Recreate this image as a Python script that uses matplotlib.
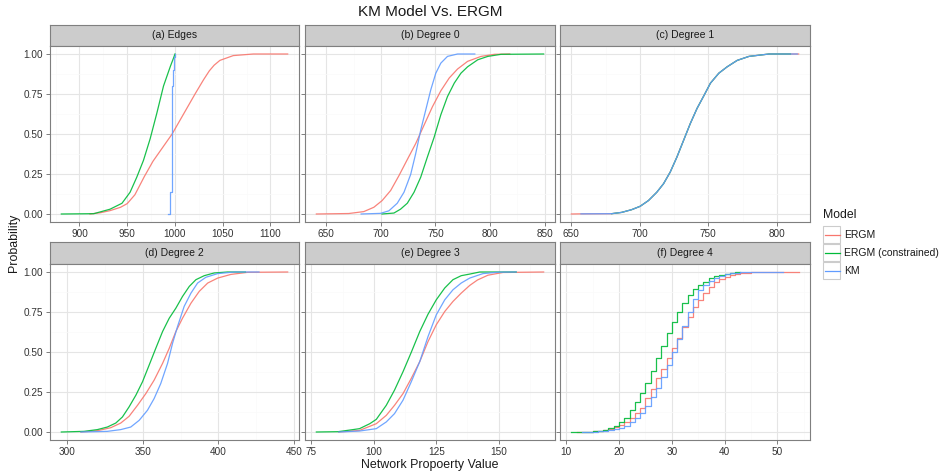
import matplotlib
matplotlib.use("Agg")
import matplotlib.pyplot as plt
from matplotlib.patches import Rectangle
from matplotlib.lines import Line2D
from matplotlib.ticker import MultipleLocator, FuncFormatter

plt.rcParams['font.family'] = ['Liberation Sans', 'DejaVu Sans']

# ---------------- data ----------------
models = ["ERGM", "ERGM (constrained)", "KM"]
colors = ["#F8766D", "#00BA38", "#619CFF"]
panel_titles = ["(a) Edges", "(b) Degree 0", "(c) Degree 1",
                "(d) Degree 2", "(e) Degree 3", "(f) Degree 4"]
panel_breaks = [50, 50, 50, 50, 25, 10]

# (a) Edges
a_ergm_x = [911, 922, 932, 943, 950, 958, 968, 977, 987, 997, 1009, 1021, 1030, 1036, 1041,
            1047, 1061, 1082, 1118]
a_ergm_p = [0, 0.008, 0.021, 0.042, 0.065, 0.12, 0.235, 0.33, 0.415, 0.5, 0.625, 0.75, 0.84,
            0.895, 0.93, 0.96, 0.99, 1.0, 1.0]
a_con_x = [881, 915, 932, 944.5, 953, 960, 967, 974, 981, 988, 995, 998.5, 1000]
a_con_p = [0, 0.002, 0.03, 0.067, 0.136, 0.23, 0.335, 0.47, 0.63, 0.80, 0.92, 0.975, 1.0]
a_km_x = [993, 995, 997, 998, 999, 1000]
a_km_p = [0.003, 0.14, 0.80, 0.90, 0.98, 1.0]

# (b) Degree 0
b_ergm_x = [641, 670.6, 684.4, 693.6, 701.2, 709, 716.6, 724.2, 731.9, 739.6, 747.2, 754.9,
            762.6, 770.2, 779.4, 791.7, 804, 818]
b_ergm_p = [0, 0.003, 0.015, 0.042, 0.084, 0.147, 0.24, 0.34, 0.44, 0.556, 0.67, 0.77,
            0.85, 0.906, 0.954, 0.985, 0.998, 1.0]
b_con_x = [701, 712, 718, 724.2, 730.4, 736.5, 742.6, 748.8, 754.9, 761, 767.2, 773.3,
           779.4, 788.7, 797.9, 810, 849]
b_con_p = [0, 0.006, 0.03, 0.067, 0.136, 0.23, 0.356, 0.48, 0.62, 0.734, 0.818, 0.88,
           0.92, 0.964, 0.985, 0.998, 1.0]
b_km_x = [682, 699.7, 707.4, 715, 721.2, 727.3, 731.9, 736.5, 741.1, 745.7, 750.3, 754.9,
          761, 770.2, 786]
b_km_p = [0, 0.004, 0.02, 0.067, 0.136, 0.247, 0.377, 0.524, 0.65, 0.776, 0.88, 0.943,
          0.985, 1.0, 1.0]

# (c) Degree 1
c_ergm_x = [650, 657, 679.4, 686.7, 694, 700.2, 706.3, 712.4, 717.3, 722.2, 727.1, 732, 736.9,
            741.8, 746.7, 751.6, 757.7, 763.8, 771.1, 779.7, 794.4, 816]
c_ergm_p = [0, 0.001, 0.002, 0.01, 0.027, 0.048, 0.084, 0.136, 0.189, 0.262, 0.356, 0.461, 0.566,
            0.66, 0.738, 0.818, 0.88, 0.92, 0.96, 0.985, 1.0, 1.0]
c_con_x = [679.4, 686.7, 694, 700.2, 706.3, 712.4, 717.3, 722.2, 727.1, 732, 736.9,
           741.8, 746.7, 751.6, 757.7, 763.8, 771.1, 779.7, 794.4, 810]
c_con_p = [0.002, 0.01, 0.027, 0.048, 0.084, 0.136, 0.189, 0.262, 0.356, 0.461, 0.566,
           0.66, 0.738, 0.818, 0.88, 0.92, 0.96, 0.985, 1.0, 1.0]
c_km_x = [657, 679.4, 686.7, 694, 700.2, 706.3, 712.4, 717.3, 722.2, 727.1, 732, 736.9,
          741.8, 746.7, 751.6, 757.7, 763.8, 771.1, 779.7, 794.4, 815]
c_km_p = [0.001, 0.002, 0.01, 0.027, 0.048, 0.084, 0.136, 0.189, 0.262, 0.356, 0.461, 0.566,
          0.66, 0.738, 0.818, 0.88, 0.92, 0.96, 0.985, 1.0, 1.0]

# (d) Degree 2
d_ergm_x = [309, 319.9, 328.8, 335.4, 340.9, 346.5, 352, 357.5, 363.1, 367.5, 371.9, 376.3,
            381.9, 387.4, 393, 399.6, 408.4, 419.5, 446]
d_ergm_p = [0, 0.008, 0.027, 0.056, 0.098, 0.167, 0.24, 0.324, 0.429, 0.523, 0.628, 0.711,
            0.805, 0.879, 0.931, 0.962, 0.985, 0.998, 1.0]
d_con_x = [296, 311, 319.9, 326.5, 332.1, 336.5, 340.9, 345.4, 349.8, 354.2, 358.6, 363.1,
           367.5, 371.9, 376.3, 380.8, 385.2, 390.7, 397.3, 406.2, 418]
d_con_p = [0, 0.004, 0.015, 0.031, 0.056, 0.094, 0.157, 0.23, 0.314, 0.418, 0.523, 0.628,
           0.711, 0.774, 0.847, 0.91, 0.952, 0.977, 0.994, 1.0, 1.0]
d_km_x = [309, 326.5, 335.4, 342, 347.6, 353.1, 357.5, 361.9, 366.4, 369.7, 373, 377.4,
          381.9, 386.3, 391.8, 399.6, 410.6, 427]
d_km_p = [0, 0.004, 0.015, 0.031, 0.073, 0.136, 0.209, 0.303, 0.429, 0.554, 0.659, 0.785,
          0.868, 0.931, 0.967, 0.99, 1.0, 1.0]

# (e) Degree 3
e_ergm_x = [86, 94.3, 101, 105, 108.3, 111.7, 115, 118.4, 121.7, 125, 128.4, 131.7, 135,
            138.4, 141.5, 145.7, 151.7, 168]
e_ergm_p = [0, 0.01, 0.052, 0.104, 0.167, 0.24, 0.335, 0.44, 0.565, 0.67, 0.753, 0.816, 0.868,
            0.916, 0.95, 0.98, 0.997, 1.0]
e_con_x = [77, 85.7, 91.7, 94.3, 98.4, 101, 105, 108.3, 111.7, 115, 118.4, 121.7, 125,
           128.4, 131.7, 135, 138.4, 142.4, 157]
e_con_p = [0, 0.002, 0.015, 0.021, 0.052, 0.079, 0.167, 0.262, 0.377, 0.498, 0.628, 0.736, 0.826,
           0.9, 0.952, 0.977, 0.987, 1.0, 1.0]
e_km_x = [86, 94.3, 101, 105, 108.3, 111.7, 115, 118.4, 121.7, 125, 128.4, 131.7, 135,
          138.4, 143.7, 150, 157]
e_km_p = [0, 0.006, 0.021, 0.063, 0.115, 0.199, 0.314, 0.44, 0.596, 0.732, 0.826, 0.889, 0.931,
          0.962, 0.99, 0.999, 1.0]

# (f) Degree 4 (integer valued -> step ECDF)
f_ergm_x = [12, 14, 15, 16, 17, 18, 19, 20, 21, 22, 23, 24, 25, 26, 27, 28, 29, 30, 31, 32, 33,
            34, 35, 36, 37, 38, 39, 40, 41, 42, 43, 44, 45, 46, 47, 54]
f_ergm_p = [0.001, 0.002, 0.004, 0.007, 0.012, 0.02, 0.03, 0.042, 0.063, 0.09, 0.12, 0.153,
            0.21, 0.266, 0.335, 0.395, 0.46, 0.525, 0.59, 0.655, 0.718, 0.78, 0.825, 0.87,
            0.905, 0.935, 0.955, 0.97, 0.98, 0.987, 0.992, 0.995, 0.997, 0.998, 0.999, 1.0]
f_con_x = [11, 13, 14, 15, 16, 17, 18, 19, 20, 21, 22, 23, 24, 25, 26, 27, 28, 29, 30, 31, 32,
           33, 34, 35, 36, 37, 38, 39, 40, 41, 42, 43]
f_con_p = [0.001, 0.002, 0.003, 0.005, 0.009, 0.015, 0.024, 0.04, 0.06, 0.09, 0.14, 0.19,
           0.241, 0.304, 0.383, 0.46, 0.538, 0.617, 0.69, 0.752, 0.805, 0.857, 0.895, 0.918,
           0.94, 0.96, 0.973, 0.983, 0.99, 0.995, 0.998, 1.0]
f_km_x = [13, 14, 15, 16, 17, 18, 19, 20, 21, 22, 23, 24, 25, 26, 27, 28, 29, 30, 31, 32, 33,
          34, 35, 36, 37, 38, 39, 40, 41, 42, 43, 44, 51]
f_km_p = [0.0005, 0.001, 0.002, 0.004, 0.007, 0.011, 0.017, 0.025, 0.04, 0.06, 0.085, 0.12,
          0.161, 0.22, 0.278, 0.345, 0.418, 0.502, 0.58, 0.66, 0.75, 0.83, 0.885, 0.916,
          0.941, 0.962, 0.977, 0.987, 0.993, 0.996, 0.998, 0.999, 1.0]

panel_series = [
    [(a_ergm_x, a_ergm_p, False), (a_con_x, a_con_p, False), (a_km_x, a_km_p, True)],
    [(b_ergm_x, b_ergm_p, False), (b_con_x, b_con_p, False), (b_km_x, b_km_p, False)],
    [(c_ergm_x, c_ergm_p, False), (c_con_x, c_con_p, False), (c_km_x, c_km_p, False)],
    [(d_ergm_x, d_ergm_p, False), (d_con_x, d_con_p, False), (d_km_x, d_km_p, False)],
    [(e_ergm_x, e_ergm_p, False), (e_con_x, e_con_p, False), (e_km_x, e_km_p, False)],
    [(f_ergm_x, f_ergm_p, True), (f_con_x, f_con_p, True), (f_km_x, f_km_p, True)],
]

# ---------------- layout ----------------
W, H = 941, 474
fig = plt.figure(figsize=(W / 100, H / 100), dpi=100)
fig.patch.set_facecolor("white")


def rect(x0, y0, x1, y1):
    return [x0 / W, 1 - y1 / H, (x1 - x0) / W, (y1 - y0) / H]


cols = [(50, 299), (305, 555), (560, 810)]
rows = [((25, 46), (46, 222)), ((242.5, 264), (264, 440))]

border = "#7F7F7F"
for i in range(6):
    r, c = divmod(i, 3)
    (sy0, sy1), (py0, py1) = rows[r]
    x0, x1 = cols[c]
    # strip
    sax = fig.add_axes(rect(x0, sy0, x1, sy1))
    sax.set_facecolor("#CCCCCC")
    sax.set_xticks([]); sax.set_yticks([])
    for s in sax.spines.values():
        s.set_color(border); s.set_linewidth(0.8)
    sax.text(0.5, 0.5, panel_titles[i], ha="center", va="center",
             fontsize=7.5, color="#1A1A1A", transform=sax.transAxes)
    # panel
    ax = fig.add_axes(rect(x0, py0, x1, py1))
    ax.set_facecolor("white")
    allx = []
    for k, (xs, ps, step) in enumerate(panel_series[i]):
        allx += list(xs)
        ax.plot(xs, ps, color=colors[k], lw=0.9, alpha=0.9,
                drawstyle="steps-post" if step else "default", zorder=3 + k)
    lo, hi = min(allx), max(allx)
    pad = (hi - lo) * 0.05
    ax.set_xlim(lo - pad, hi + pad)
    ax.set_ylim(-0.05, 1.05)
    br = panel_breaks[i]
    ax.xaxis.set_major_locator(MultipleLocator(br))
    ax.xaxis.set_minor_locator(MultipleLocator(br / 2))
    ax.yaxis.set_major_locator(MultipleLocator(0.25))
    ax.yaxis.set_minor_locator(MultipleLocator(0.125))
    ax.grid(True, which="minor", color="#FAFAFA", lw=0.5, zorder=0)
    ax.grid(True, which="major", color="#E5E5E5", lw=0.8, zorder=1)
    ax.set_axisbelow(True)
    for s in ax.spines.values():
        s.set_color(border); s.set_linewidth(0.8)
    ax.tick_params(which="major", direction="out", length=3, width=0.7, color=border,
                   labelsize=7.2, labelcolor="#333333", pad=2)
    ax.tick_params(which="minor", length=0)
    ax.xaxis.set_major_formatter(FuncFormatter(lambda v, p: "%d" % round(v)))
    if c == 0:
        ax.yaxis.set_major_formatter(FuncFormatter(lambda v, p: "%.2f" % v))
    else:
        ax.tick_params(axis="y", labelleft=False)

# titles
fig.text(430 / W, 1 - 12 / H, "KM Model Vs. ERGM", ha="center", va="center",
         fontsize=11, color="#1A1A1A")
fig.text(430 / W, 1 - 465 / H, "Network Propoerty Value", ha="center", va="center",
         fontsize=8.9, color="#1A1A1A")
fig.text(14 / W, 1 - 243 / H, "Probability", ha="center", va="center",
         rotation=90, fontsize=8.9, color="#1A1A1A")

# legend (drawn manually, ggplot style)
fig.text(823 / W, 1 - 215 / H, "Model", ha="left", va="center", fontsize=8.8, color="#1A1A1A")
centers = [234.5, 252.5, 270.5]
for k, m in enumerate(models):
    cy = centers[k]
    fig.add_artist(Rectangle((823 / W, 1 - (cy + 8.7) / H), 17.4 / W, 17.4 / H,
                             transform=fig.transFigure, facecolor="white",
                             edgecolor="#CCCCCC", lw=0.8))
    fig.add_artist(Line2D([824.5 / W, 839.5 / W], [1 - cy / H, 1 - cy / H],
                          transform=fig.transFigure, color=colors[k], lw=0.9))
    fig.text(844 / W, 1 - cy / H, m, ha="left", va="center", fontsize=7.5, color="#1A1A1A")

fig.savefig("out.png", dpi=100)
